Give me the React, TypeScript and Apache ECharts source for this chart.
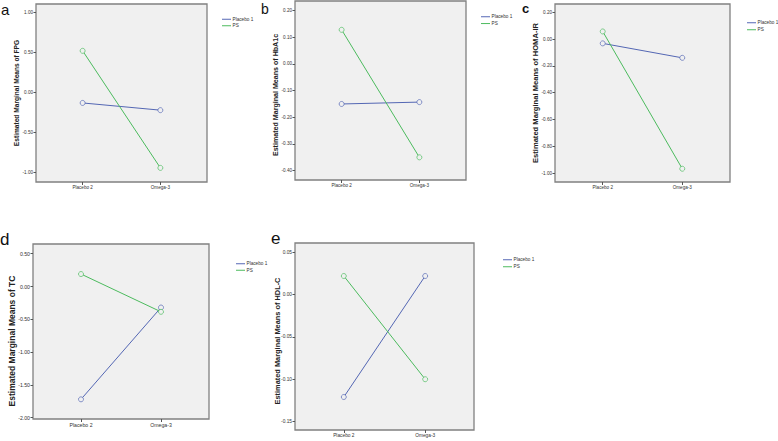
import React, { useEffect, useRef } from "react";
import * as echarts from "echarts";

// ---- data ----
const categories = ["Placebo 2", "Omega-3"];
const seriesNames = ["Placebo 1", "PS"];

const fpgPlacebo1 = [-0.13, -0.22];
const fpgPS = [0.52, -0.94];
const hba1cPlacebo1 = [-0.15, -0.143];
const hba1cPS = [0.128, -0.35];
const homaPlacebo1 = [-0.032, -0.14];
const homaPS = [0.057, -0.968];
const tcPlacebo1 = [-1.72, -0.32];
const tcPS = [0.19, -0.386];
const hdlPlacebo1 = [-0.121, 0.022];
const hdlPS = [0.022, -0.1];

const fpgTicks = [-1.0, -0.5, 0.0, 0.5, 1.0];
const hba1cTicks = [-0.4, -0.3, -0.2, -0.1, 0.0, 0.1, 0.2];
const homaTicks = [-1.0, -0.8, -0.6, -0.4, -0.2, 0.0, 0.2];
const tcTicks = [-2.0, -1.5, -1.0, -0.5, 0.0, 0.5];
const hdlTicks = [-0.15, -0.1, -0.05, 0.0, 0.05];

const panelLetters = ["a", "b", "c", "d", "e"];
const yTitles = [
  "Estimated Marginal Means of FPG",
  "Estimated Marginal Means of HbA1c",
  "Estimated Marginal Means of HOMA-IR",
  "Estimated Marginal Means of TC",
  "Estimated Marginal Means of HDL-C",
];

const FONT = "'Liberation Sans', Arial, sans-serif";
const BLUE = "#5467b4";
const GREEN = "#4cbb5e";

export default function App() {
  const ref = useRef<HTMLDivElement>(null);

  useEffect(() => {
    document.body.style.margin = "0";
    const chart = echarts.init(ref.current!, null, { renderer: "svg" });

    const panels = [
      { p1: fpgPlacebo1, ps: fpgPS, ticks: fpgTicks, min: -1.116, max: 1.104,
        grid: { left: 36, top: 4, width: 171, height: 178 },
        legend: { left: 222, top: 16, gap: 0 }, tickFont: 4.6, titleFont: 6.6,
        titleX: 16, titleY: 93, letter: { x: 1, y: 1.5, size: 15, bold: false } },
      { p1: hba1cPlacebo1, ps: hba1cPS, ticks: hba1cTicks, min: -0.435, max: 0.236,
        grid: { left: 295, top: 1, width: 171, height: 179 },
        legend: { left: 481, top: 13.5, gap: 0.3 }, tickFont: 4.6, titleFont: 7.1,
        titleX: 276, titleY: 95, letter: { x: 261, y: 2, size: 14, bold: false } },
      { p1: homaPlacebo1, ps: homaPS, ticks: homaTicks, min: -1.067, max: 0.262,
        grid: { left: 555, top: 4, width: 175, height: 178 },
        legend: { left: 747, top: 19.5, gap: 0.5 }, tickFont: 4.6, titleFont: 7.6,
        titleX: 535, titleY: 93, letter: { x: 522, y: 2, size: 13, bold: true } },
      { p1: tcPlacebo1, ps: tcPS, ticks: tcTicks, min: -2.02, max: 0.648,
        grid: { left: 33, top: 244, width: 176, height: 175 },
        legend: { left: 236, top: 260.5, gap: 0 }, tickFont: 5.2, titleFont: 8.5,
        titleX: 11.7, titleY: 341, letter: { x: 0, y: 230.5, size: 17, bold: false } },
      { p1: hdlPlacebo1, ps: hdlPS, ticks: hdlTicks, min: -0.16, max: 0.061,
        grid: { left: 295, top: 243, width: 179, height: 187 },
        legend: { left: 503, top: 256.5, gap: 0.5 }, tickFont: 4.8, titleFont: 7.4,
        titleX: 277.3, titleY: 341, letter: { x: 271, y: 229.5, size: 17, bold: false } },
    ];

    const grid: any[] = [];
    const xAxis: any[] = [];
    const yAxis: any[] = [];
    const series: any[] = [];
    const legend: any[] = [];
    const graphic: any[] = [];

    panels.forEach((p, i) => {
      grid.push({
        ...p.grid,
        show: true,
        backgroundColor: "#f0f0f0",
        borderColor: "#808080",
        borderWidth: 1.3,
      });
      xAxis.push({
        type: "value",
        gridIndex: i,
        min: -0.6,
        max: 1.6,
        splitLine: { show: false },
        axisLine: { show: false, onZero: false },
        axisTick: { show: true, length: 3, customValues: [0, 1], lineStyle: { color: "#555" } },
        axisLabel: {
          customValues: [0, 1],
          formatter: (v: number) => categories[Math.round(v)],
          fontSize: p.tickFont,
          fontFamily: FONT,
          color: "#333",
          margin: 3,
        },
      });
      yAxis.push({
        type: "value",
        gridIndex: i,
        min: p.min,
        max: p.max,
        splitLine: { show: false },
        axisLine: { show: false, onZero: false },
        axisTick: { show: true, length: 2.5, customValues: p.ticks, lineStyle: { color: "#555" } },
        axisLabel: {
          customValues: p.ticks,
          formatter: (v: number) => v.toFixed(2),
          fontSize: p.tickFont,
          fontFamily: FONT,
          color: "#333",
          margin: 3,
        },
      });
      const mk = (name: string, vals: number[], color: string) => ({
        name,
        type: "line",
        xAxisIndex: i,
        yAxisIndex: i,
        data: vals.map((v, k) => [k, v]),
        symbol: "circle",
        symbolSize: 5,
        itemStyle: { color: "#f0f0f0", borderColor: color, borderWidth: 0.7 },
        lineStyle: { color, width: 1 },
      });
      series.push(mk(seriesNames[0], p.p1, BLUE));
      series.push(mk(seriesNames[1], p.ps, GREEN));
      legend.push({
        data: seriesNames.map((n, k) => ({
          name: n,
          itemStyle: { color: k === 0 ? BLUE : GREEN, borderWidth: 0 },
        })),
        orient: "vertical",
        left: p.legend.left,
        top: p.legend.top,
        padding: 0,
        itemGap: p.legend.gap,
        itemWidth: 9,
        itemHeight: 1,
        icon: "rect",
        selectedMode: false,
        textStyle: {
          fontSize: 4.7,
          lineHeight: 6.5,
          fontFamily: FONT,
          color: "#333",
          padding: [0, 0, 0, -3.5],
        },
      });
      graphic.push({
        type: "text",
        x: p.titleX,
        y: p.titleY,
        rotation: Math.PI / 2,
        style: {
          text: yTitles[i],
          font: `bold ${p.titleFont}px ${FONT}`,
          fill: "#222",
          align: "center",
          verticalAlign: "middle",
        },
      });
      graphic.push({
        type: "text",
        x: p.letter.x,
        y: p.letter.y,
        style: {
          text: panelLetters[i],
          font: `${p.letter.bold ? "bold " : ""}${p.letter.size}px ${FONT}`,
          fill: "#111",
          align: "left",
          verticalAlign: "top",
        },
      });
    });

    chart.setOption({
      animation: false,
      backgroundColor: "#ffffff",
      grid,
      xAxis,
      yAxis,
      series,
      legend,
      graphic,
    });

    return () => chart.dispose();
  }, []);

  return (
    <div
      ref={ref}
      style={{ position: "absolute", left: 0, top: 0, width: 778, height: 441 }}
    />
  );
}
